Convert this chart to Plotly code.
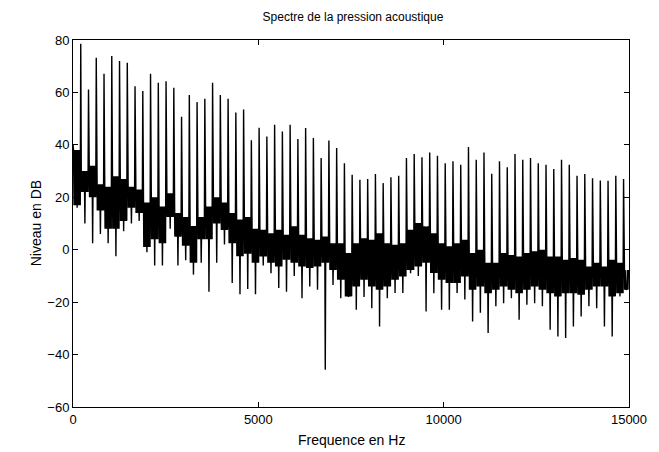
import plotly.graph_objects as go

# Harmonic spectrum
fundamental_hz = 209.2          # spacing of the harmonic lines
x_max_hz = 15000
start_level = 40                # level at 0 Hz

# Level of each harmonic line n = 1..71 (dB)
peak_levels = [78.6, 61.1, 73.2, 67.1, 73.9, 72.0, 71.3, 62.4, 60.5, 67.1,
               63.7, 64.3, 61.8, 50.7, 59.0, 56.3, 57.6, 63.7, 59.0, 57.6,
               52.3, 53.5, 41.8, 46.5, 43.2, 47.7, 45.1, 47.7, 42.2, 46.4,
               42.6, 35.0, 41.7, 38.8, 33.0, 28.6, 26.7, 27.0, 28.9, 25.4,
               27.6, 28.2, 35.0, 36.5, 35.3, 37.1, 35.8, 33.0, 33.7, 32.4,
               39.2, 34.3, 37.1, 29.0, 33.7, 31.5, 36.5, 34.3, 35.0, 33.0,
               32.4, 30.8, 34.3, 32.4, 28.2, 28.9, 27.3, 26.4, 26.3, 28.2,
               27.0]

# Noise band between harmonics (interval k = between line k and line k+1), dB
noise_hi = [38, 30, 32, 25, 24, 28, 27, 24, 23, 18,
            20, 16.5, 21.5, 14, 12.5, 9, 12.5, 16.5, 20, 18,
            14, 11.5, 12.5, 8, 7.6, 6.3, 7.6, 5.7, 8.9, 5.7,
            4.4, 3.8, 5, 2.5, 2.5, -1.3, 2.5, 4.4, 3.8, 6.3,
            2.5, 1.9, 2.5, 7.6, 10.2, 8.9, 6.3, 2.5, 1.3, 2.5,
            3.8, -1.3, 0, -5, -5, -1.3, -2, -2.6, -1.3, -0.6,
            0, -2.6, -2.6, -3.8, -3.2, -3.8, -6.4, -5, -6.4, -3.8,
            -5, -7.7]
noise_lo = [17, 22, 20, 15, 8, 8, 11, 16, 14, 1,
            4, 2.5, 12.5, 5, 1.5, -5, 4, 4, 10, 7.5,
            2.5, -2.5, -1.5, -5, -2.6, -5, -6.4, -3.8, -5, -6.4,
            -7, -6.4, -5, -7.7, -11.5, -17.8, -14, -11.5, -14, -15.3,
            -14, -11.5, -10.2, -7.7, -6.4, -5, -8.9, -11.5, -12.7, -12.7,
            -10.2, -15.3, -14, -16.6, -15.3, -14, -15.3, -16.6, -15.3, -14,
            -15.3, -16.6, -17.8, -16.6, -16.6, -17.2, -15.3, -14, -14, -17.8,
            -16.6, -15.3]
noise_dip = [16, 10, 2.5, 6, 2.5, -2.5, 7, 10, 11, -1,
             -6, -6, 8, -6, -4, -9.5, -5, -16, -5, 2,
             -12.7, -17, -15, -17, -6, -9, -14.6, -16, -10, -18.5,
             -14, -15.3, -45.8, -13.5, -18.5, -18, -22.9, -18, -22.3, -29.3,
             -18.5, -16.5, -16.5, -9, -10, -23.6, -16.6, -22.9, -22.9, -16.5,
             -19, -27.4, -24, -31.8, -21.6, -20.4, -18.5, -26.7, -21, -20.4,
             -21.6, -30.5, -33.1, -33.7, -29.3, -25.5, -21.6, -22.3, -29.3, -33.1,
             -17.8, -15]

n_lines = len(peak_levels)
freqs, levels = [0.0], [start_level]
for k in range(n_lines + 1):
    a = k * fundamental_hz
    b = (k + 1) * fundamental_hz if k < n_lines else x_max_hz
    n_pts = 14 if k < n_lines else 9
    for j in range(1, n_pts + 1):
        freqs.append(a + (b - a) * j / (n_pts + 1))
        if j == n_pts // 2 + 1:
            levels.append(noise_dip[k])
        elif j % 2:
            levels.append(noise_hi[k])
        else:
            levels.append(noise_lo[k])
    if k < n_lines:
        freqs.append(b)
        levels.append(peak_levels[k])

FONT = "Liberation Sans, Arial, sans-serif"

fig = go.Figure(go.Scatter(x=freqs, y=levels, mode="lines",
                           line=dict(color="black", width=1.4)))

axis_common = dict(showgrid=False, zeroline=False, showline=True,
                   linecolor="black", linewidth=1, mirror="ticks",
                   ticks="inside", ticklen=5, tickcolor="black",
                   tickfont=dict(family=FONT, size=13, color="black"))

# page body has an 8px margin, so the figure is sized to fit the window
fig.update_layout(
    width=651, height=444,
    margin=dict(l=65, r=26, t=32, b=45),
    paper_bgcolor="white", plot_bgcolor="white",
    showlegend=False,
    title=dict(text="Spectre de la pression acoustique",
               font=dict(family=FONT, size=12, color="black"),
               x=(353 - 8) / 651, xanchor="center", y=1 - 9 / 444, yanchor="middle",
               yref="container"),
    xaxis=dict(range=[0, 15000], tickvals=[0, 5000, 10000, 15000],
               ticktext=["0", "5000", "10000", "15000"], **axis_common),
    yaxis=dict(range=[-60, 80], tickvals=[-60, -40, -20, 0, 20, 40, 60, 80],
               **axis_common),
    annotations=[
        dict(text="Frequence en Hz", xref="paper", yref="paper", x=0.5, y=-0.089,
             showarrow=False, xanchor="center", yanchor="middle",
             font=dict(family=FONT, size=14, color="black")),
        dict(text="Niveau en DB", xref="paper", yref="paper", x=-0.067, y=0.5,
             showarrow=False, textangle=-90, xanchor="center", yanchor="middle",
             font=dict(family=FONT, size=14, color="black")),
    ],
)

fig.write_html("out.html")
